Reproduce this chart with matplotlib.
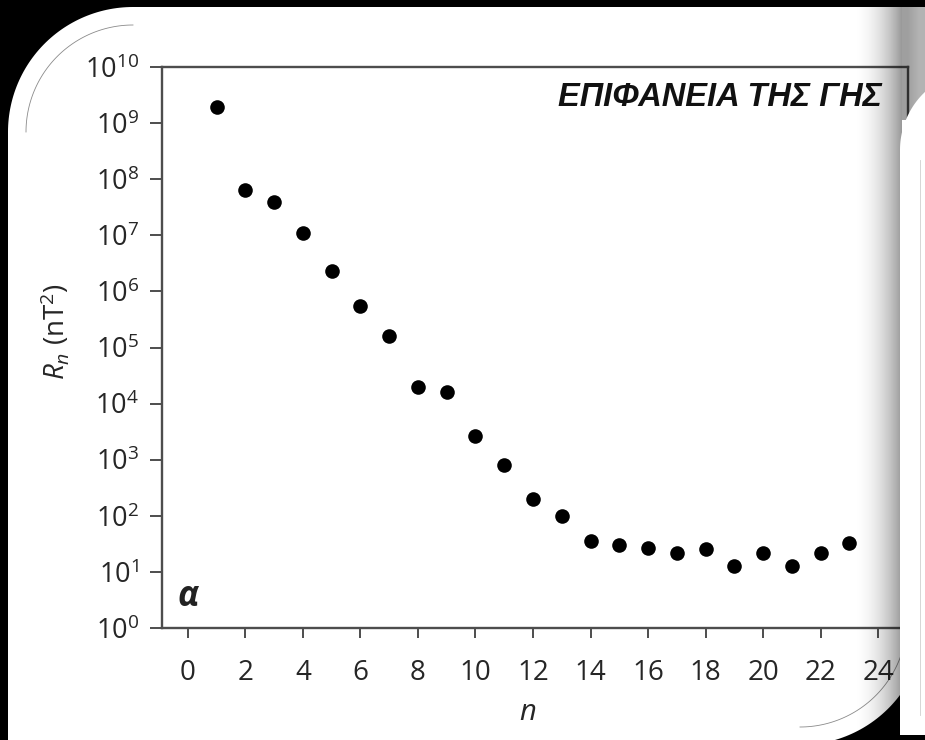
import numpy as np
import matplotlib.pyplot as plt
from matplotlib.patches import Polygon
from matplotlib.ticker import NullLocator

plt.rcParams['font.family'] = 'Open Sans'
plt.rcParams['mathtext.fontset'] = 'custom'
plt.rcParams['mathtext.rm'] = 'Open Sans'
plt.rcParams['mathtext.it'] = 'Open Sans:italic'

# power spectrum of the field at the Earth's surface, degree n
n = list(range(1, 24))
rn = [1.9e9, 6.3e7, 3.9e7, 1.1e7, 2.3e6, 5.4e5, 1.6e5, 2.0e4, 1.6e4, 2.6e3,
      810, 200, 100, 36, 30, 27, 22, 26, 13, 22, 13, 22, 33]
xticks = list(range(0, 25, 2))
yticks = [10.0 ** k for k in range(0, 11)]
title = 'ΕΠΙΦΑΝΕΙΑ ΤΗΣ ΓΗΣ'
tag = 'α'

W, H = 925, 740
fig = plt.figure(figsize=(W / 100, H / 100), dpi=100, facecolor='black')


def arc(cx, cy, r, a0, a1, num=60):
    t = np.radians(np.linspace(a0, a1, num))
    return np.column_stack([cx + r * np.cos(t), cy + r * np.sin(t)])


# page behind the chart
bg = fig.add_axes([0, 0, 1, 1], zorder=0)
page = np.vstack([[[8, 760]], arc(133, 132, 125, 180, 270),
                  [[925, 7]], arc(800, 620, 125, 0, 90), [[8, 760]]])
bg.add_patch(Polygon(page, closed=True, facecolor='white', edgecolor='none'))
for cx, cy, a0, a1 in [(133, 132, 180, 270), (800, 620, 0, 90)]:
    pts = arc(cx, cy, 107, a0, a1)
    bg.plot(pts[:, 0], pts[:, 1], color='#8a8a8a', lw=0.6)
bg.set_xlim(0, W)
bg.set_ylim(H, 0)
bg.set_axis_off()

# the chart
ax = fig.add_axes([162 / W, 1 - 628 / H, 746 / W, 561 / H], zorder=1)
ax.patch.set_alpha(0)
ax.plot(n, rn, 'o', color='black', ms=10.5, mec='none')
ax.set_yscale('log')
ax.set_ylim(1, 1e10)
ax.set_xlim(-0.9, 25.04)
ax.set_yticks(yticks)
ax.yaxis.set_minor_locator(NullLocator())
ax.set_xticks(xticks)
for s in ax.spines.values():
    s.set_color('#4d4d4d')
    s.set_linewidth(1.7)
ax.tick_params(axis='y', length=8.6, width=1.4, color='#4d4d4d', pad=8,
               labelsize=19.5, labelcolor='#262626')
ax.tick_params(axis='x', length=7, width=1.4, color='#4d4d4d', pad=15,
               labelsize=20, labelcolor='#262626')

ax.text(0.965, 0.9465, title, transform=ax.transAxes, ha='right', va='center',
        fontsize=23.5, fontweight='bold', style='italic', family='Liberation Sans',
        color='#111111')
ax.text(0.035, 0.055, tag, transform=ax.transAxes, ha='center', va='center',
        fontsize=25, style='italic', fontweight='bold', color='#222222')

fig.text(55 / W, 1 - 332 / H, r'$R_n$ (nT$^2$)', rotation=90, ha='center',
         va='center', fontsize=20, color='#262626')
fig.text(528 / W, 1 - 712 / H, r'$n$', ha='center', va='center', fontsize=21,
         color='#262626')

# shading and the next page on the right
ov = fig.add_axes([0, 0, 1, 1], zorder=2)
ov.patch.set_alpha(0)
ramp = np.linspace(0, 1, 80) ** 2.0
grad = np.zeros((1, ramp.size, 4))
grad[0, :, 3] = 0.40 * ramp
ov.imshow(grad, extent=(852, 902, 760, 0), aspect='auto', interpolation='bilinear')
top = np.zeros((1, 2, 4))
top[0, :, 3] = [0.38, 0.3]
ov.imshow(top, extent=(902, 925, 120, 7), aspect='auto', interpolation='bilinear')
nxt = np.vstack([[[900, 735]], arc(980, 150, 80, 180, 270),
                 [[1000, 70]], [[1000, 735]]])
ov.add_patch(Polygon(nxt, closed=True, facecolor='white', edgecolor='none'))
ov.plot([920, 920], [160, 715], color='#d0d0d0', lw=0.6)
ov.set_xlim(0, W)
ov.set_ylim(H, 0)
ov.set_axis_off()

fig.savefig('out.png', dpi=100, facecolor='black')
